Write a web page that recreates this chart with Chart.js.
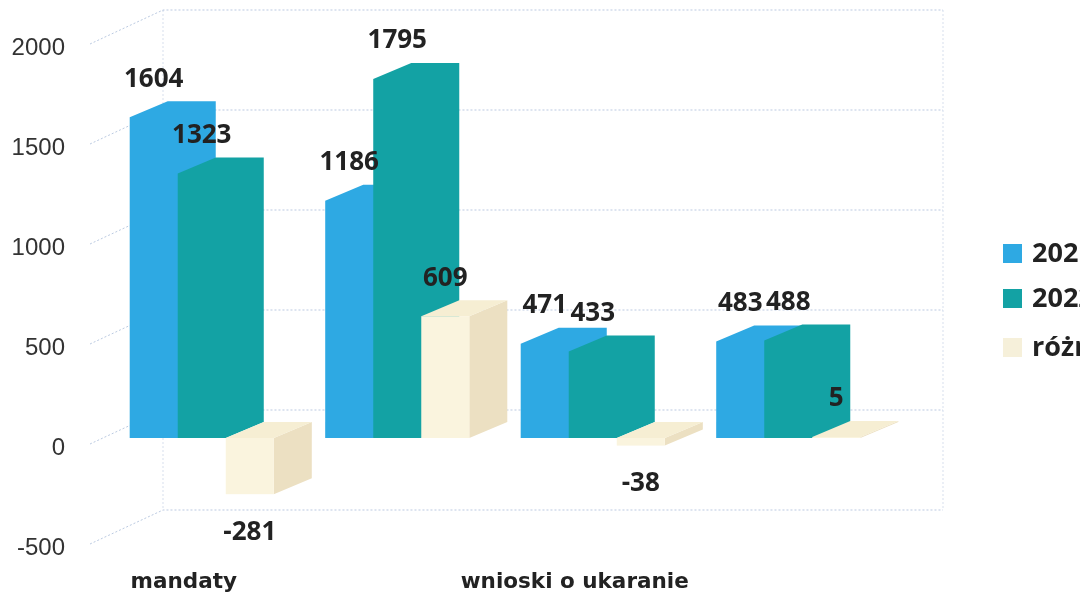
<!DOCTYPE html>
<html>
<head>
<meta charset="utf-8">
<script src="https://cdn.jsdelivr.net/npm/chart.js@4/dist/chart.umd.min.js"></script>
<style>
  html, body { margin: 0; padding: 0; background: #fff; overflow: hidden; }
  #wrap { width: 1080px; height: 594px; position: relative; }
</style>
</head>
<body>
<div id="wrap"><canvas id="chart" width="1080" height="594"></canvas></div>
<script>
// values
const categories = ['mandaty', '', 'wnioski o ukaranie', ''];
const seriesNames = ['2021', '2022', 'różnica'];
const values2021 = [1604, 1186, 471, 483];
const values2022 = [1323, 1795, 433, 488];
const diffValues = [-281, 609, -38, 5];
const yTicks = [-500, 0, 500, 1000, 1500, 2000];

const blue = '#2ea9e3';
const teal = '#13a2a4';
const cream = '#faf4de';
// side / top shades for the fake 3d (null = same as front, drawn as one shape)
const shades = [
  null,
  null,
  { top: '#f6eed3', side: '#ece0c2' }
];
const depthX = 38, depthY = 16;

// back walls and slanted grid lines
const gridPlugin = {
  id: 'grid3d',
  beforeDatasetsDraw(chart) {
    const { ctx, chartArea, scales } = chart;
    const y = scales.y;
    const frontX = chartArea.left - 14;
    const backX = chartArea.left + 59;
    const rightX = chartArea.right + 57;
    ctx.save();
    ctx.strokeStyle = 'rgba(120,150,195,0.5)';
    ctx.lineWidth = 1;
    ctx.setLineDash([2, 2]);
    yTicks.forEach(v => {
      const py = y.getPixelForValue(v);
      ctx.beginPath();
      ctx.moveTo(frontX, py + 6);
      ctx.lineTo(backX, py - 28);
      ctx.lineTo(rightX, py - 28);
      ctx.stroke();
    });
    const topY = y.getPixelForValue(yTicks[yTicks.length - 1]) - 28;
    const botY = y.getPixelForValue(yTicks[0]) - 28;
    ctx.strokeStyle = 'rgba(120,150,195,0.3)';
    [backX, rightX].forEach(x => {
      ctx.beginPath();
      ctx.moveTo(x, topY);
      ctx.lineTo(x, botY);
      ctx.stroke();
    });
    ctx.restore();
  }
};

// draw bars as boxes, left series first so later ones sit in front
const boxPlugin = {
  id: 'box3d',
  beforeDatasetsDraw(chart) {
    const ctx = chart.ctx;
    chart.data.datasets.forEach((ds, i) => {
      const meta = chart.getDatasetMeta(i);
      meta.data.forEach(el => {
        const l = el.x - el.width / 2, r = el.x + el.width / 2;
        const t = Math.min(el.y, el.base), b = Math.max(el.y, el.base);
        ctx.save();
        if (!shades[i]) {
          ctx.fillStyle = ds.backgroundColor;
          ctx.beginPath();
          ctx.moveTo(l, b);
          ctx.lineTo(l, t);
          ctx.lineTo(l + depthX, t - depthY);
          ctx.lineTo(r + depthX, t - depthY);
          ctx.lineTo(r + depthX, b - depthY);
          ctx.lineTo(r, b);
          ctx.closePath();
          ctx.fill();
          ctx.restore();
          return;
        }
        // side
        ctx.fillStyle = shades[i].side;
        ctx.beginPath();
        ctx.moveTo(r, t);
        ctx.lineTo(r + depthX, t - depthY);
        ctx.lineTo(r + depthX, b - depthY);
        ctx.lineTo(r, b);
        ctx.closePath();
        ctx.fill();
        // top
        ctx.fillStyle = shades[i].top;
        ctx.beginPath();
        ctx.moveTo(l, t);
        ctx.lineTo(l + depthX, t - depthY);
        ctx.lineTo(r + depthX, t - depthY);
        ctx.lineTo(r, t);
        ctx.closePath();
        ctx.fill();
        // front
        ctx.fillStyle = ds.backgroundColor;
        ctx.fillRect(l, t, r - l, b - t);
        ctx.restore();
      });
    });
    return false;
  }
};

const labelPlugin = {
  id: 'labels3d',
  afterDraw(chart) {
    const ctx = chart.ctx;
    ctx.save();
    ctx.font = 'bold 26px "Open Sans"';
    ctx.fillStyle = '#222';
    ctx.textAlign = 'center';
    ctx.textBaseline = 'middle';
    chart.data.datasets.forEach((ds, i) => {
      chart.getDatasetMeta(i).data.forEach((el, j) => {
        const v = ds.data[j];
        const py = v >= 0 ? el.y - 38 : el.y + 38;
        ctx.fillText(String(v), el.x, py);
      });
    });
    // legend on the right, runs off the edge like the original
    const rows = [253, 298, 347];
    ctx.font = 'bold 27px "Open Sans"';
    ctx.textAlign = 'left';
    chart.data.datasets.forEach((ds, i) => {
      ctx.fillStyle = i === 2 ? '#f6f0da' : ds.backgroundColor;
      ctx.fillRect(1003, rows[i] - 9, 19, 19);
      ctx.fillStyle = '#222';
      ctx.fillText(ds.label, 1032, rows[i] + 1);
    });
    ctx.restore();
  }
};

new Chart(document.getElementById('chart'), {
  type: 'bar',
  data: {
    labels: categories,
    datasets: [
      { label: seriesNames[0], data: values2021, backgroundColor: blue },
      { label: seriesNames[1], data: values2022, backgroundColor: teal },
      { label: seriesNames[2], data: diffValues, backgroundColor: cream }
    ]
  },
  options: {
    responsive: false,
    animation: false,
    layout: { padding: { top: 38, right: 194, bottom: 0, left: 0 } },
    datasets: { bar: { categoryPercentage: 0.737, barPercentage: 1, borderWidth: 0 } },
    plugins: { legend: { display: false }, tooltip: { enabled: false } },
    scales: {
      x: {
        grid: { display: false, drawTicks: false },
        border: { display: false },
        ticks: {
          autoSkip: false,
          maxRotation: 0,
          padding: 32,
          labelOffset: -18,
          color: '#222',
          font: { family: 'DejaVu Sans', size: 21.5, weight: 'bold' }
        },
        afterFit(scale) { scale.height = 56; }
      },
      y: {
        min: -500,
        max: 2000,
        grid: { display: false, drawTicks: false },
        border: { display: false },
        ticks: {
          stepSize: 500,
          padding: 39,
          labelOffset: 10,
          color: '#333',
          font: { family: 'Liberation Sans', size: 24 },
          callback: v => String(v)
        },
        afterFit(scale) {
          scale.width = 104;
          scale.paddingTop = 0;
          scale.paddingBottom = 0;
        }
      }
    }
  },
  plugins: [gridPlugin, boxPlugin, labelPlugin]
});
</script>
</body>
</html>
